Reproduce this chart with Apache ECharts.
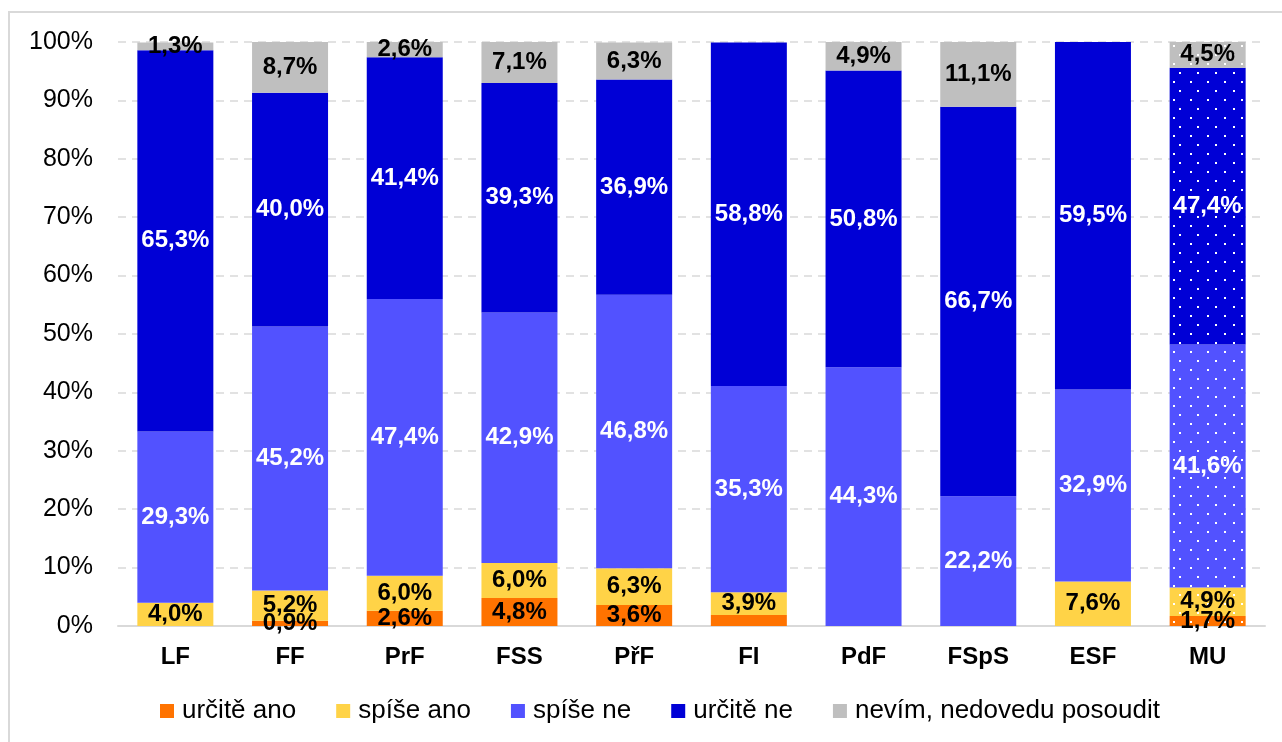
<!DOCTYPE html>
<html>
<head>
<meta charset="utf-8">
<script src="https://cdn.jsdelivr.net/npm/echarts@6/dist/echarts.min.js"></script>
<style>
  html, body { margin: 0; padding: 0; background: #fff; }
  #chart { width: 1282px; height: 742px; }
</style>
</head>
<body>
<div id="chart"></div>
<script>
const categories = ["LF", "FF", "PrF", "FSS", "PřF", "FI", "PdF", "FSpS", "ESF", "MU"];

const urciteAno = [0, 0.9, 2.6, 4.8, 3.6, 1.9, 0, 0, 0, 1.7];
const spiseAno = [4.0, 5.2, 6.0, 6.0, 6.3, 3.9, 0, 0, 7.6, 4.9];
const spiseNe = [29.3, 45.2, 47.4, 42.9, 46.8, 35.3, 44.3, 22.2, 32.9, 41.6];
const urciteNe = [65.3, 40.0, 41.4, 39.3, 36.9, 58.8, 50.8, 66.7, 59.5, 47.4];
const nevim = [1.3, 8.7, 2.6, 7.1, 6.3, 0, 4.9, 11.1, 0, 4.5];

// labels that the reference leaves out (FI "určitě ano")
const hiddenLabels = { "určitě ano": ["FI"] };
const patterned = "MU";

const seriesDefs = [
  { name: "určitě ano", data: urciteAno, color: "#ff7300", text: "#000" },
  { name: "spíše ano", data: spiseAno, color: "#ffd347", text: "#000" },
  { name: "spíše ne", data: spiseNe, color: "#5252ff", text: "#fff" },
  { name: "určitě ne", data: urciteNe, color: "#0000d6", text: "#fff" },
  { name: "nevím, nedovedu posoudit", data: nevim, color: "#bfbfbf", text: "#000" }
];

const FONT = "'Liberation Sans', Arial, sans-serif";

const dots = {
  symbol: "rect",
  symbolSize: 1,
  color: "#ffffff",
  dashArrayX: [[2, 15], [0, 8.5, 2, 6.5]],
  dashArrayY: [2, 6.5],
  rotation: 0
};

const fmt = (v) => v.toFixed(1).replace(".", ",") + "%";

const chart = echarts.init(document.getElementById("chart"));

chart.setOption({
  backgroundColor: "#ffffff",
  animation: false,
  textStyle: { fontFamily: FONT },
  graphic: [{
    type: "rect",
    shape: { x: 9, y: 12, width: 1300, height: 760 },
    style: { fill: "none", stroke: "#d9d9d9", lineWidth: 2 },
    silent: true
  }],
  grid: { left: 118, right: 17, top: 42, bottom: 116 },
  legend: {
    bottom: 13,
    left: 155,
    icon: "rect",
    itemWidth: 14,
    itemHeight: 14,
    itemGap: 40,
    textStyle: { color: "#000", fontSize: 26, fontFamily: FONT, padding: [0, 0, 0, 3] },
    data: seriesDefs.map(s => s.name)
  },
  xAxis: {
    type: "category",
    data: categories,
    axisLine: { lineStyle: { color: "#d9d9d9", width: 2 } },
    axisTick: { show: false },
    axisLabel: { color: "#000", fontSize: 24, fontWeight: "bold", margin: 19, fontFamily: FONT }
  },
  yAxis: {
    type: "value",
    min: 0,
    max: 100,
    interval: 10,
    axisLine: { show: false },
    axisTick: { show: false },
    axisLabel: { color: "#000", fontSize: 25, margin: 25, formatter: "{value}%", fontFamily: FONT },
    splitLine: { lineStyle: { color: "#d9d9d9", width: 1.5, type: [8, 6] } }
  },
  series: seriesDefs.map(s => ({
    name: s.name,
    type: "bar",
    stack: "total",
    barWidth: 76,
    itemStyle: { color: s.color },
    label: {
      show: true,
      position: "inside",
      color: s.text,
      fontSize: 24,
      fontWeight: "bold",
      fontFamily: FONT,
      formatter: (p) => (p.value > 0 ? fmt(p.value) : "")
    },
    data: s.data.map((v, i) => {
      const item = { value: v };
      const hide = hiddenLabels[s.name] || [];
      if (hide.includes(categories[i])) item.label = { show: false };
      if (categories[i] === patterned) item.itemStyle = { color: s.color, decal: dots };
      return item;
    })
  }))
});
</script>
</body>
</html>
